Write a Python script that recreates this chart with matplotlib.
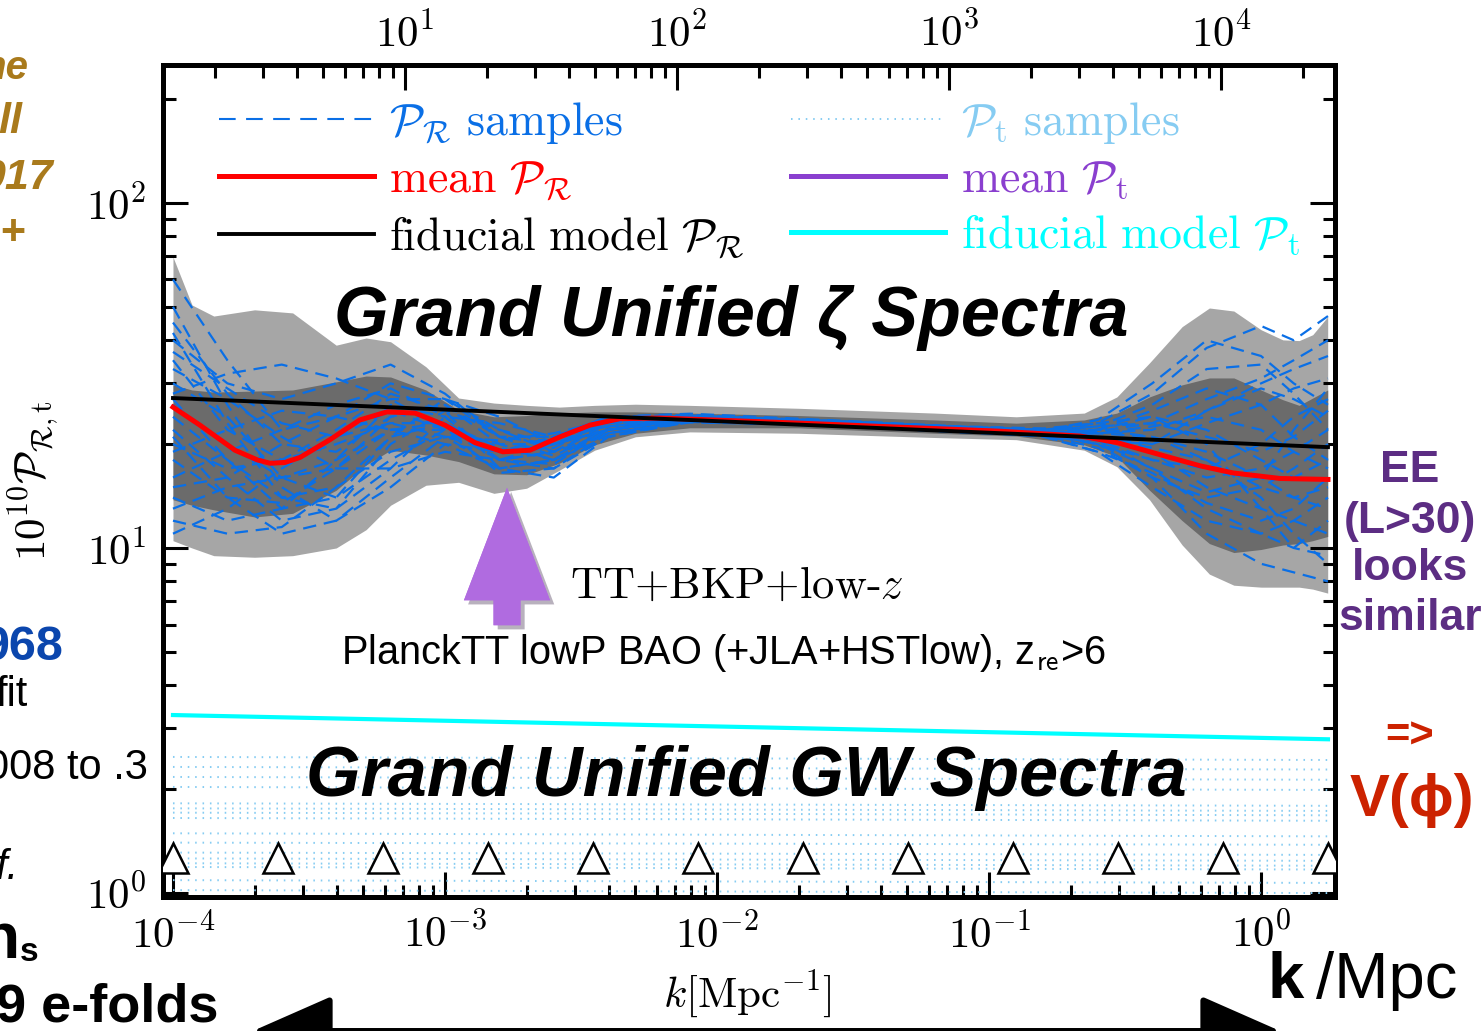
import numpy as np
import matplotlib
matplotlib.use('Agg')
from matplotlib import pyplot as plt
from matplotlib.lines import Line2D
from matplotlib.patches import FancyArrowPatch
from matplotlib.ticker import NullFormatter
import matplotlib.patheffects as pe

plt.rcParams['mathtext.fontset'] = 'cm'

W, H = 1482, 1031

# ---- values ----
# confidence bands (log10 k, k in Mpc^-1)
logk_band = [-4.0, -3.93, -3.85, -3.7, -3.56, -3.4, -3.29, -3.2, -3.07, -2.95,
             -2.82, -2.7, -2.58, -2.45, -2.3, -2.1, -1.7, -1.2, -0.9, -0.65,
             -0.53, -0.41, -0.29, -0.19, -0.1, 0.0, 0.08, 0.14, 0.19, 0.245]
out_hi = [69.7, 50.6, 47.0, 49.0, 48.0, 38.7, 40.6, 39.6, 33.5, 27.2,
          26.3, 25.9, 25.6, 25.9, 26.1, 25.9, 25.4, 24.6, 24.0, 24.6,
          27.4, 34.4, 43.8, 49.6, 48.6, 42.9, 40.1, 39.9, 41.5, 46.8]
out_lo = [10.5, 10.0, 9.5, 9.4, 9.5, 10.0, 11.3, 13.3, 15.2, 15.5,
          14.4, 14.9, 16.8, 19.2, 21.0, 21.7, 21.5, 20.9, 20.6, 19.2,
          17.2, 13.8, 10.2, 8.4, 7.8, 7.7, 7.7, 7.7, 7.6, 7.4]
in_hi = [29.7, 28.7, 28.3, 28.5, 28.7, 30.3, 31.5, 31.3, 28.7, 25.1,
         24.0, 24.2, 24.6, 24.8, 24.8, 24.6, 24.2, 23.5, 23.0, 23.5,
         24.6, 27.4, 29.7, 31.1, 31.1, 28.7, 26.9, 25.9, 27.2, 28.7]
in_lo = [13.8, 13.3, 12.9, 12.3, 12.6, 14.7, 17.4, 19.2, 18.6, 17.8,
         16.4, 16.3, 17.6, 19.9, 21.5, 22.3, 22.3, 21.5, 21.1, 19.9,
         18.4, 14.7, 12.0, 10.3, 9.7, 9.9, 10.2, 10.3, 10.5, 10.8]

# mean P_R
logk_mean = [-4.0, -3.901, -3.772, -3.690, -3.643, -3.588, -3.533, -3.423, -3.313, -3.213,
             -3.11, -3.0, -2.89, -2.787, -2.688, -2.577, -2.467, -2.357, -2.21, -1.695,
             -0.96, -0.665, -0.529, -0.346, -0.224, -0.103, 0.07, 0.246]
P_mean = [25.6, 22.7, 19.2, 18.0, 17.6, 17.7, 18.3, 20.6, 23.5, 24.8,
          24.6, 22.7, 20.2, 19.0, 19.2, 21.0, 22.7, 23.7, 23.8, 23.0,
          21.8, 21.1, 20.2, 18.4, 17.3, 16.5, 15.9, 15.8]

# fiducial power laws
logk_fid = [-4.0, 0.246]
P_fid_R = [27.2, 19.6]
P_fid_t = [3.28, 2.79]

# P_R samples
logk_samp = [-4.0, -3.8, -3.6, -3.4, -3.2, -3.0, -2.8, -2.6, -2.4, -2.1,
             -1.6, -1.1, -0.8, -0.6, -0.4, -0.2, 0.0, 0.12, 0.246]
samples_R = [
    [60, 35, 22, 24, 30, 27, 21, 21, 24, 24.5, 23.5, 22.5, 22, 23, 28, 38, 44, 40, 47],
    [14, 12, 13, 18, 26, 24, 18, 19, 23, 24, 23, 22, 21.5, 20, 16, 11, 9, 8.5, 8],
    [30, 24, 16, 14, 18, 22, 20, 20, 22, 23.5, 23, 22, 21.5, 21.5, 22, 25, 30, 33, 36],
    [22, 16, 12, 13, 20, 25, 22, 20, 22, 23.5, 22.8, 21.8, 21, 19, 15, 12, 11, 12, 14],
    [40, 30, 27, 30, 34, 28, 21, 20, 23, 24, 23.2, 22.2, 21.6, 22, 24, 22, 18, 16, 18],
    [18, 14, 13.5, 17, 24, 26, 21, 18.5, 22, 23.8, 23, 22.3, 21.8, 21, 19, 15, 13, 12, 11],
    [26, 20, 16, 17, 22, 23, 18, 17, 21, 23.2, 22.7, 21.6, 21.2, 20.5, 18, 17, 20, 24, 27],
    [12, 11, 11.5, 15, 21, 23, 19, 19.5, 23.5, 24.2, 23.4, 22.4, 22, 22.5, 26, 33, 34, 28, 22],
    [35, 22, 18, 22, 28, 25, 17, 16, 21, 23.4, 22.9, 22, 21.4, 20, 17, 13, 11, 10, 9.5],
    [20, 17, 18, 20, 23, 21, 17, 18, 22.5, 23.6, 23.1, 22.1, 21.7, 21.5, 21, 19, 16, 14, 13],
    [45, 28, 20, 19, 24, 26, 20, 18, 21.5, 23.3, 22.6, 21.7, 21.3, 22, 25, 29, 26, 21, 18],
    [16, 19, 22, 26, 29, 24, 18, 17.5, 22, 23.7, 22.9, 21.9, 21.2, 19.5, 16, 14, 15, 17, 20],
    [24, 18, 14, 15, 19, 21, 19, 21, 24, 24, 23.3, 22.5, 22.2, 23, 24, 20, 13, 10, 12],
    [50, 26, 15, 12, 15, 20, 19, 20, 23, 23.6, 23, 22, 21.5, 20.5, 20, 23, 26, 29, 31],
    [28, 32, 34, 31, 27, 22, 18, 19, 22.5, 23.9, 23.2, 22.2, 21.9, 23.5, 30, 40, 36, 30, 26],
    [11, 13, 17, 21, 25, 22, 16.5, 17, 21.5, 23.1, 22.8, 21.9, 21.3, 20, 18, 16, 17, 19, 22],
    [33, 27, 21, 17, 17, 19, 18, 20, 23.5, 24.1, 23.1, 22.0, 21.6, 21.8, 23, 27, 31, 35, 40],
    [19, 22, 25, 24, 22, 20, 17, 18, 22, 23.4, 22.9, 22.1, 21.5, 21, 19.5, 18, 14, 11, 9],
    [42, 23, 14, 13, 17, 24, 23, 21, 22.5, 23.7, 23.1, 22.3, 21.9, 22.5, 23, 21, 19, 21, 25],
    [15, 16, 20, 24, 27, 27, 22, 19, 21.5, 23.2, 22.7, 21.8, 21.1, 19, 16.5, 13.5, 12, 13, 16],
    [27, 18, 13, 14, 21, 27, 24, 20, 22, 23.9, 23.3, 22.4, 22, 22, 21, 18, 15, 14, 15],
    [13, 15, 16, 18, 22, 22, 19, 21, 24, 24.3, 23.4, 22.3, 21.8, 21, 20, 25, 29, 27, 24],
    [37, 29, 23, 21, 23, 23, 19.5, 18, 21, 23.3, 22.8, 21.9, 21.5, 21.5, 22.5, 24, 22, 19, 17],
    [21, 14, 11, 12, 16, 21, 20.5, 21.5, 23.5, 23.8, 23.0, 22.1, 21.6, 20.5, 17, 14.5, 16, 22, 29],
]

# P_t samples (nearly flat), level at k = 1e-4 and at the right end
pt_left = [2.48, 2.32, 2.17, 2.03, 1.82, 1.76, 1.71, 1.65, 1.49, 1.40, 1.31, 1.26, 1.22, 1.19, 1.09, 1.02]
pt_right = [2.43, 2.28, 2.13, 1.99, 1.79, 1.73, 1.68, 1.62, 1.46, 1.38, 1.29, 1.24, 1.20, 1.17, 1.07, 1.00]

# knot positions (triangles)
logk_knots = [-4.0, -3.614, -3.228, -2.842, -2.456, -2.070, -1.684, -1.298, -0.912, -0.526, -0.140, 0.246]
P_knot = 1.26

xtick_labels = [r'$10^{-4}$', r'$10^{-3}$', r'$10^{-2}$', r'$10^{-1}$', r'$10^{0}$']
ytick_labels = [r'$10^{0}$', r'$10^{1}$', r'$10^{2}$']
ltick_labels = [r'$10^{1}$', r'$10^{2}$', r'$10^{3}$', r'$10^{4}$']

blue = '#0a6fe6'
lightblue = '#86ccf2'
purple = '#8a3fcf'
gold = '#a97a1c'

fig = plt.figure(figsize=(W / 100, H / 100), dpi=100)
ax = fig.add_axes([163 / W, 1 - 897 / H, (1335 - 163) / W, (897 - 65) / H])
ax.set_xscale('log')
ax.set_yscale('log')
ax.set_xlim(9.19e-5, 1.87)
ax.set_ylim(0.974, 251)

kb = 10 ** np.array(logk_band)
ax.fill_between(kb, out_lo, out_hi, color='#a6a6a6', lw=0, zorder=1)
ax.fill_between(kb, in_lo, in_hi, color='#6b6b6b', lw=0, zorder=2)

ks = 10 ** np.array(logk_samp)
for s in samples_R:
    ax.plot(ks, s, color=blue, lw=1.6, dashes=(6, 3.5), zorder=3)

kf = 10 ** np.array(logk_fid)
for lo, hi in zip(pt_left, pt_right):
    ax.plot(kf, [lo, hi], color=lightblue, lw=1.4, dashes=(0.8, 3), zorder=3)

ax.plot(10 ** np.array(logk_mean), P_mean, color='red', lw=3.6, zorder=5)
ax.plot(kf, P_fid_R, color='k', lw=2.8, zorder=6)
ax.plot(kf, P_fid_t, color='cyan', lw=3.0, zorder=6)
kk = 10 ** np.array(logk_knots)
ax.plot(kk, [P_knot] * len(kk), ls='none', marker='^', ms=21, mfc='white',
        mec='k', mew=1.8, zorder=7)

# axes decoration
for sp in ax.spines.values():
    sp.set_linewidth(3.6)
ax.set_xticks([1e-4, 1e-3, 1e-2, 1e-1, 1], xtick_labels)
ax.set_yticks([1, 10, 100], ytick_labels)
ax.xaxis.set_minor_formatter(NullFormatter())
ax.yaxis.set_minor_formatter(NullFormatter())
ax.tick_params(which='both', direction='in', top=False, right=True, width=2.2)
ax.tick_params(which='major', length=18, pad=12, labelsize=31)
ax.tick_params(which='minor', length=9)

sec = ax.secondary_xaxis('top', functions=(lambda k: k * 14000, lambda l: l / 14000))
sec.set_xticks([10, 100, 1000, 10000], ltick_labels)
sec.xaxis.set_minor_formatter(NullFormatter())
sec.tick_params(which='both', direction='in', width=2.2)
sec.tick_params(which='major', length=18, pad=7, labelsize=31)
sec.tick_params(which='minor', length=9)
sec.spines['top'].set_linewidth(3.6)

ax.set_xlabel(r'$k[\mathrm{Mpc}^{-1}]$', fontsize=31)
ax.xaxis.set_label_coords(0.499, -0.086)
ax.set_ylabel(r'$10^{10}\mathcal{P}_{\mathcal{R},\mathrm{t}}$', fontsize=31)
ax.yaxis.set_label_coords(-0.087, 0.5)

handles = [Line2D([], [], color=blue, lw=1.5, dashes=(8, 5)),
           Line2D([], [], color='red', lw=3.6),
           Line2D([], [], color='k', lw=2.8),
           Line2D([], [], color=lightblue, lw=1.4, dashes=(0.8, 3)),
           Line2D([], [], color=purple, lw=3.6),
           Line2D([], [], color='cyan', lw=3.6)]
labels = [r'$\mathcal{P}_\mathcal{R}\ \mathrm{samples}$',
          r'$\mathrm{mean}\ \mathcal{P}_\mathcal{R}$',
          r'$\mathrm{fiducial\ model}\ \mathcal{P}_\mathcal{R}$',
          r'$\mathcal{P}_\mathrm{t}\ \mathrm{samples}$',
          r'$\mathrm{mean}\ \mathcal{P}_\mathrm{t}$',
          r'$\mathrm{fiducial\ model}\ \mathcal{P}_\mathrm{t}$']
label_colors = [blue, 'red', 'k', lightblue, purple, 'cyan']
leg = ax.legend(handles, labels, ncol=2, loc='upper left', bbox_to_anchor=(0.048, 0.958),
                frameon=False, fontsize=33, handlelength=3.38, handletextpad=0.33,
                columnspacing=1.0, labelspacing=0.24, borderpad=0, borderaxespad=0)
for t, c in zip(leg.get_texts(), label_colors):
    t.set_color(c)

# slide annotations
SANS = ['Liberation Sans', 'DejaVu Sans']


def ftext(x, y, s, **kw):
    fig.text(x / W, 1 - y / H, s, **kw)


ftext(731, 336, 'Grand Unified ζ Spectra', ha='center', va='baseline', family=SANS,
      weight='bold', style='italic', size=50.5, zorder=10)
ftext(746, 796, 'Grand Unified GW Spectra', ha='center', va='baseline', family=SANS,
      weight='bold', style='italic', size=50.5, zorder=10)
ftext(570, 598, 'TT+BKP+low-$z$', ha='left', va='baseline', family='cmr10', size=32)
ftext(341, 664, r'PlanckTT lowP BAO (+JLA+HSTlow), z$_{\mathsf{re}}$>6', ha='left',
      va='baseline', family=SANS, size=28.6)

arrow = FancyArrowPatch((507 / W, 1 - 628 / H), (507 / W, 1 - 485 / H), transform=fig.transFigure,
                        arrowstyle='simple,head_length=4.05,head_width=3.1,tail_width=0.97',
                        mutation_scale=20, color='#b06be0', lw=0, zorder=5,
                        path_effects=[pe.withSimplePatchShadow(offset=(3, -3), alpha=0.35), pe.Normal()])
fig.add_artist(arrow)

ftext(28, 68, 'ne', ha='right', va='center', family=SANS, weight='bold', style='italic', size=29, color=gold)
ftext(22, 122, 'll', ha='right', va='center', family=SANS, weight='bold', style='italic', size=31, color=gold)
ftext(53, 178, '017', ha='right', va='center', family=SANS, weight='bold', style='italic', size=31, color=gold)
ftext(13, 233, '+', ha='center', va='center', family=SANS, weight='bold', size=31, color=gold)
ftext(63, 648, '968', ha='right', va='center', family=SANS, weight='bold', size=35, color='#0b46ad')
ftext(28, 695, 'fit', ha='right', va='center', family=SANS, size=30)
ftext(148, 768, '008 to .3', ha='right', va='center', family=SANS, size=30)
ftext(19, 868, 'f.', ha='right', va='center', family=SANS, style='italic', size=30)
ftext(20, 958, 'n', ha='right', va='baseline', family=SANS, weight='bold', size=46)
ftext(20, 961, 's', ha='left', va='baseline', family=SANS, weight='bold', size=24)
ftext(218, 1007, '9 e-folds', ha='right', va='center', family=SANS, weight='bold', size=39)
ftext(1268, 998, 'k', ha='left', va='baseline', family=SANS, weight='bold', size=47)
ftext(1316, 998, '/Mpc', ha='left', va='baseline', family=SANS, size=47)

ee_purple = '#5c2d83'
ftext(1410, 470, 'EE', ha='center', va='center', family=SANS, weight='bold', size=32, color=ee_purple)
ftext(1410, 522, '(L>30)', ha='center', va='center', family=SANS, weight='bold', size=32, color=ee_purple)
ftext(1410, 569, 'looks', ha='center', va='center', family=SANS, weight='bold', size=32, color=ee_purple)
ftext(1410, 619, 'similar', ha='center', va='center', family=SANS, weight='bold', size=32, color=ee_purple)
ftext(1410, 737, '=>', ha='center', va='center', family=SANS, weight='bold', size=30, color='#cc2200')
ftext(1412, 800, 'V(ϕ)', ha='center', va='center', family=SANS, weight='bold', size=43, color='#cc2200')

big = FancyArrowPatch((250 / W, 1 - 1031 / H), (1283 / W, 1 - 1031 / H), transform=fig.transFigure,
                      arrowstyle='<|-|>,head_length=5,head_width=2.2', mutation_scale=10,
                      color='k', lw=4.3)
fig.add_artist(big)

fig.savefig('out.png', dpi=100)
